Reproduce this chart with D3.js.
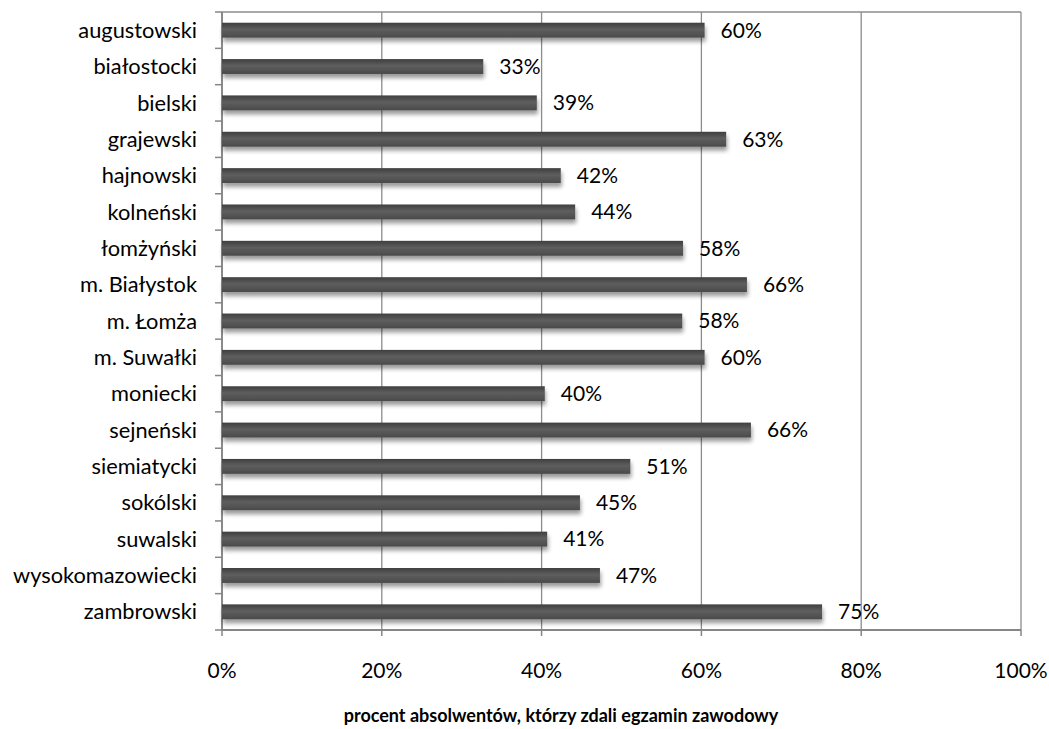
<!DOCTYPE html>
<html>
<head>
<meta charset="utf-8">
<script src="https://cdn.jsdelivr.net/npm/d3@7"></script>
<style>
  body { margin: 0; background: #fff; }
  text { font-family: Lato, "Open Sans", sans-serif; fill: #000; }
</style>
</head>
<body>
<script>
var WIDTH = 1049,
    HEIGHT = 729,
    MARGIN = { top: 12, right: 28, bottom: 99, left: 222 };

var districts = ['augustowski', 'białostocki', 'bielski', 'grajewski', 'hajnowski',
    'kolneński', 'łomżyński', 'm. Białystok', 'm. Łomża', 'm. Suwałki', 'moniecki',
    'sejneński', 'siemiatycki', 'sokólski', 'suwalski', 'wysokomazowiecki', 'zambrowski'];
var passRate = [0.604, 0.327, 0.394, 0.631, 0.424, 0.442, 0.577, 0.657, 0.576,
    0.604, 0.404, 0.662, 0.511, 0.448, 0.407, 0.473, 0.751];
var xTicks = [0, 0.2, 0.4, 0.6, 0.8, 1];
var xTitle = 'procent absolwentów, którzy zdali egzamin zawodowy';

document.addEventListener('DOMContentLoaded', function() {
    var svg = d3.select('body').append('svg')
        .attr('width', WIDTH)
        .attr('height', HEIGHT);

    var defs = svg.append('defs');
    var grad = defs.append('linearGradient')
        .attr('id', 'barGrad')
        .attr('x1', 0).attr('y1', 0).attr('x2', 0).attr('y2', 1);
    grad.append('stop').attr('offset', '0%').attr('stop-color', '#3f3f3f');
    grad.append('stop').attr('offset', '45%').attr('stop-color', '#5e5e5e');
    grad.append('stop').attr('offset', '100%').attr('stop-color', '#4a4a4a');

    var shadow = defs.append('filter')
        .attr('id', 'shadow')
        .attr('x', '-5%').attr('y', '-50%')
        .attr('width', '110%').attr('height', '250%');
    shadow.append('feGaussianBlur').attr('in', 'SourceAlpha').attr('stdDeviation', 2.2);
    shadow.append('feOffset').attr('dx', 1).attr('dy', 3.5).attr('result', 'off');
    shadow.append('feComponentTransfer').append('feFuncA')
        .attr('type', 'linear').attr('slope', 0.4);
    var merge = shadow.append('feMerge');
    merge.append('feMergeNode');
    merge.append('feMergeNode').attr('in', 'SourceGraphic');

    var innerW = WIDTH - MARGIN.left - MARGIN.right,
        innerH = HEIGHT - MARGIN.top - MARGIN.bottom;

    var g = svg.append('g')
        .attr('transform', 'translate(' + MARGIN.left + ',' + MARGIN.top + ')');

    var x = d3.scaleLinear().domain([0, 1]).range([0, innerW]);
    var y = d3.scaleBand().domain(districts).range([0, innerH]).paddingInner(0.59).paddingOuter(0.295);
    var yTicks = d3.scaleLinear().domain([0, districts.length]).range([0, innerH]);

    // grid lines + frame
    g.selectAll('.grid')
        .data(xTicks)
        .enter()
        .append('line')
        .attr('x1', d => x(d)).attr('x2', d => x(d))
        .attr('y1', 0).attr('y2', innerH)
        .attr('stroke', '#8c8c8c')
        .attr('stroke-width', 1.3);
    g.append('line')
        .attr('x1', 0).attr('x2', innerW).attr('y1', 0).attr('y2', 0)
        .attr('stroke', '#8c8c8c').attr('stroke-width', 1.3);

    // left axis line + ticks between categories
    g.append('line')
        .attr('x1', 0).attr('x2', 0).attr('y1', 0).attr('y2', innerH)
        .attr('stroke', '#868686').attr('stroke-width', 1.8);
    g.selectAll('.ytick')
        .data(d3.range(districts.length + 1))
        .enter()
        .append('line')
        .attr('x1', -7).attr('x2', 0)
        .attr('y1', d => yTicks(d)).attr('y2', d => yTicks(d))
        .attr('stroke', '#868686').attr('stroke-width', 1.5);

    // bottom axis
    g.append('line')
        .attr('x1', 0).attr('x2', innerW).attr('y1', innerH).attr('y2', innerH)
        .attr('stroke', '#868686').attr('stroke-width', 1.8);
    g.selectAll('.xtick')
        .data(xTicks)
        .enter()
        .append('line')
        .attr('x1', d => x(d)).attr('x2', d => x(d))
        .attr('y1', innerH).attr('y2', innerH + 6)
        .attr('stroke', '#868686').attr('stroke-width', 1.5);

    g.selectAll('.xlabel')
        .data(xTicks)
        .enter()
        .append('text')
        .attr('x', d => x(d))
        .attr('y', innerH + 48)
        .attr('text-anchor', 'middle')
        .style('font-size', '21px')
        .text(d3.format('.0%'));

    g.selectAll('.ylabel')
        .data(districts)
        .enter()
        .append('text')
        .attr('x', -25)
        .attr('y', d => y(d) + y.bandwidth() / 2)
        .attr('dy', '0.35em')
        .attr('text-anchor', 'end')
        .style('font-size', '21.8px')
        .text(d => d);

    // bars
    g.selectAll('.bar')
        .data(passRate)
        .enter()
        .append('rect')
        .attr('x', 0)
        .attr('y', (d, i) => y(districts[i]))
        .attr('width', d => x(d))
        .attr('height', y.bandwidth())
        .attr('fill', 'url(#barGrad)')
        .attr('filter', 'url(#shadow)');

    g.selectAll('.value')
        .data(passRate)
        .enter()
        .append('text')
        .attr('x', d => x(d) + 16)
        .attr('y', (d, i) => y(districts[i]) + y.bandwidth() / 2)
        .attr('dy', '0.35em')
        .style('font-size', '21px')
        .text(d => Math.round(d * 100) + '%');

    svg.append('text')
        .attr('x', 561)
        .attr('y', 722)
        .attr('text-anchor', 'middle')
        .style('font-size', '18px')
        .style('font-weight', 'bold')
        .text(xTitle);
});
</script>
</body>
</html>
